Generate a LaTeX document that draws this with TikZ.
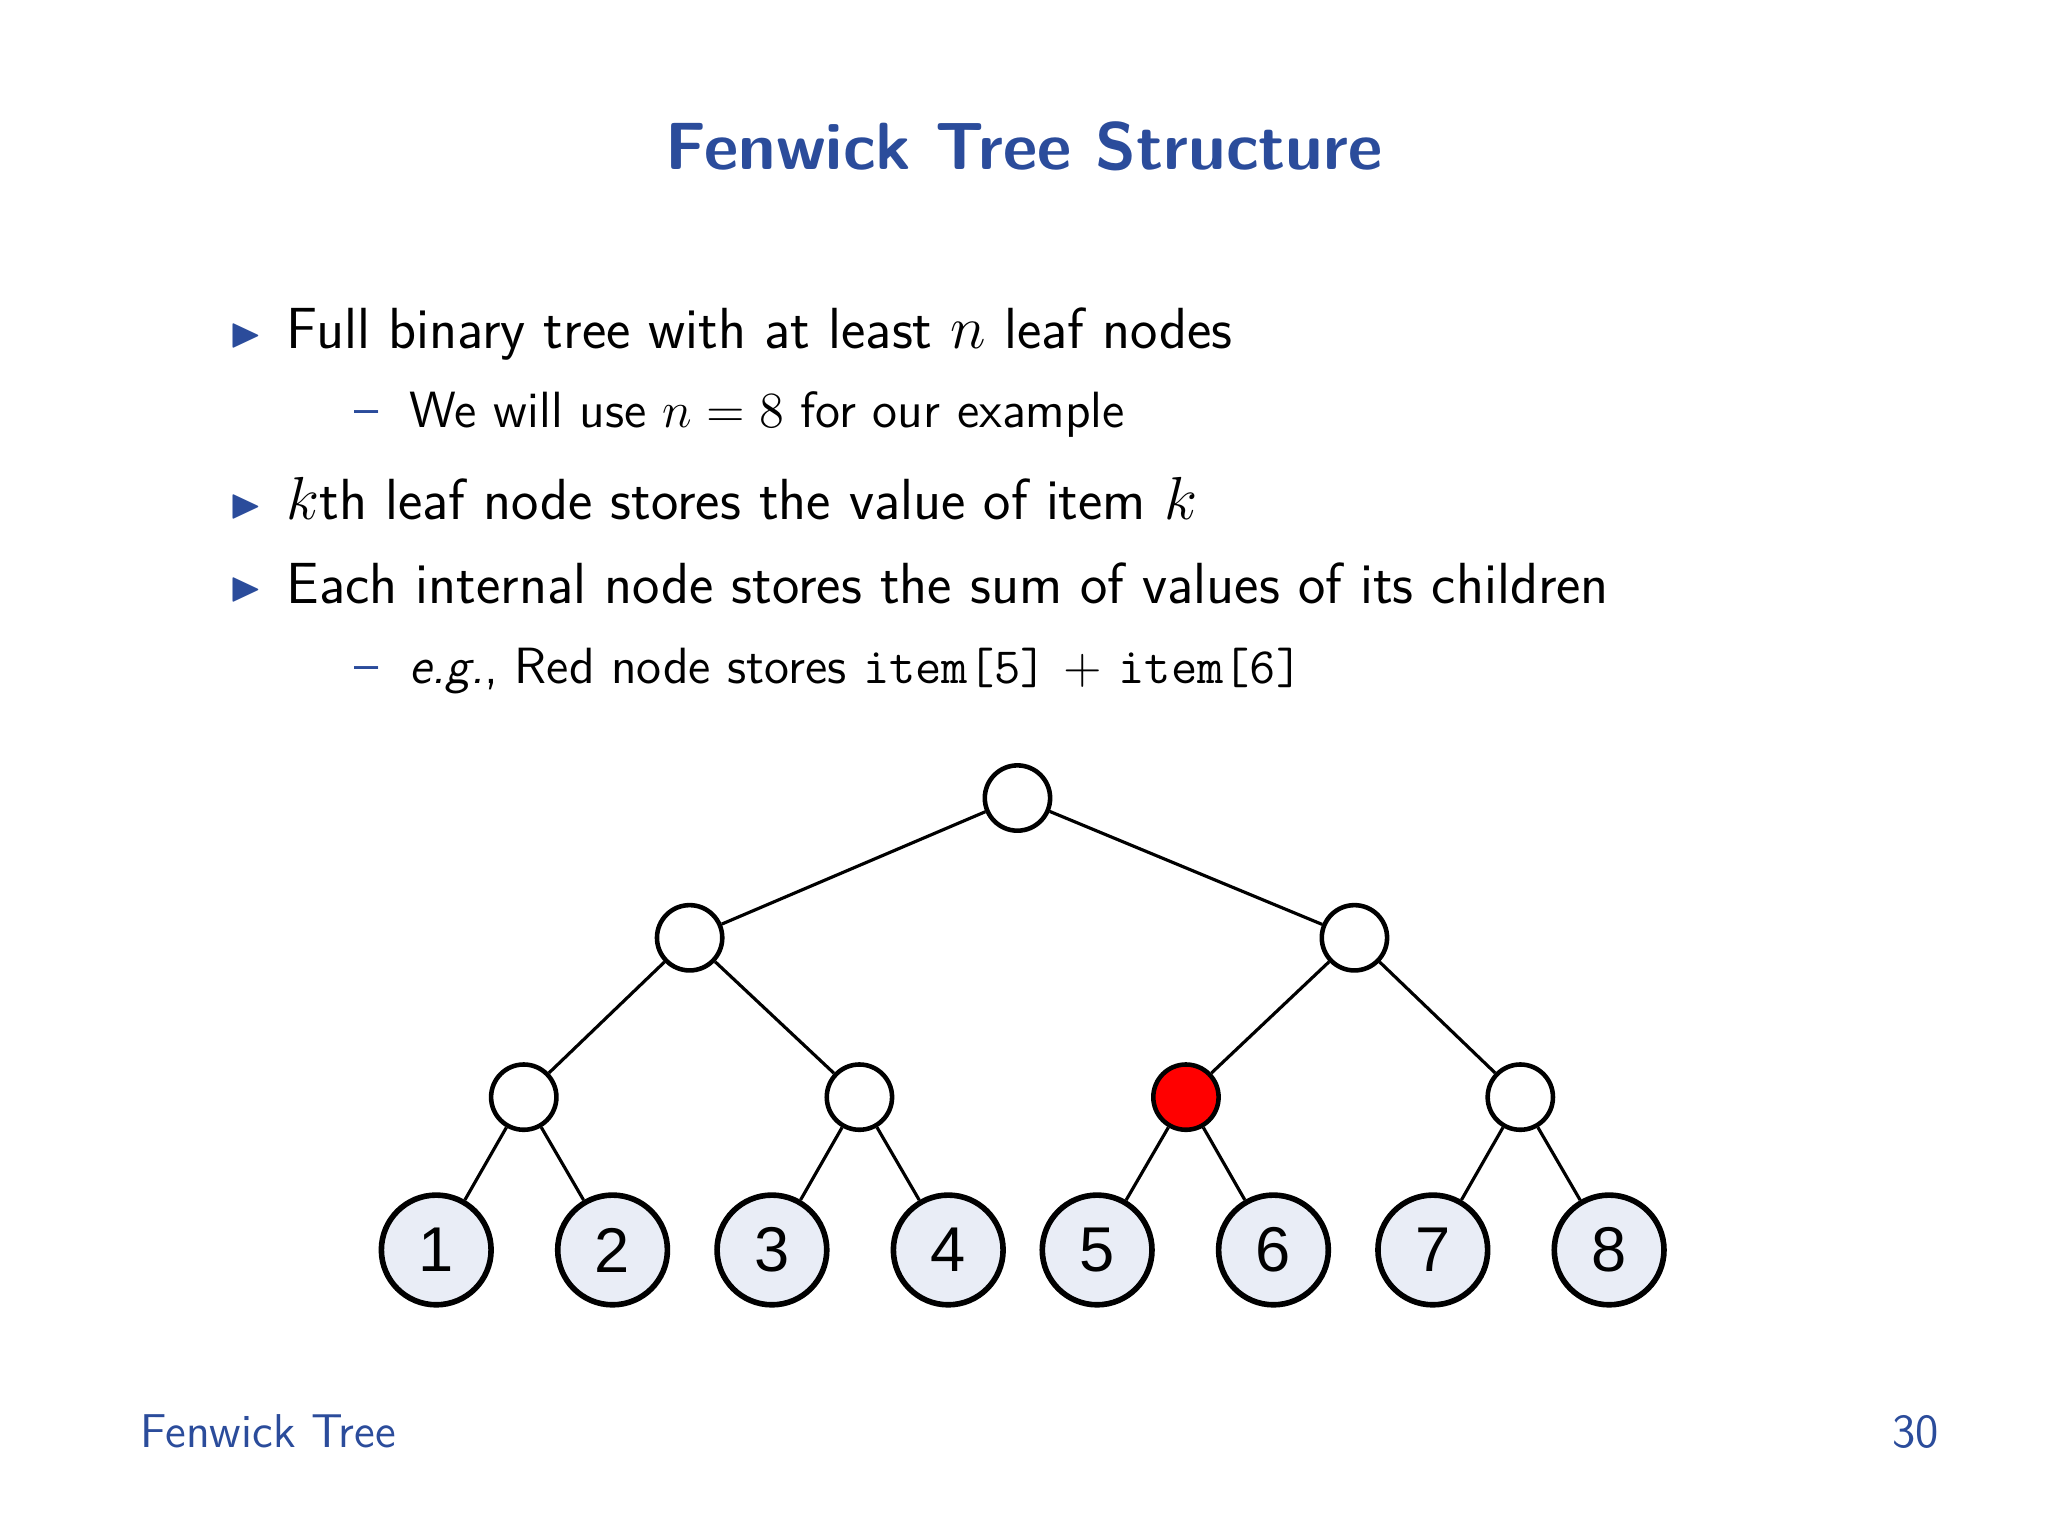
\documentclass[tikz,border=0pt]{standalone}
\usepackage{amsmath,amssymb}
\usepackage{fontspec}
\newfontfamily\arialf{Liberation Sans}
\definecolor{bblue}{HTML}{2B4C9B}
\definecolor{leaf}{HTML}{E9EDF6}
\begin{document}
\begin{tikzpicture}[x=0.013061cm,y=-0.013061cm,font=\sffamily,
  inn/.style={circle,draw,line width=1.3pt,fill=white,minimum size=50*0.013061cm,inner sep=0pt},
  lf/.style={circle,draw,line width=1.6pt,fill=leaf,minimum size=84*0.013061cm,inner sep=0pt,font=\arialf\fontsize{18}{20}\selectfont},
  ed/.style={line width=0.9pt}]
\useasboundingbox (0,0) rectangle (1568,1176);
\node[text=bblue,font=\sffamily\bfseries\fontsize{19}{22}\selectfont] (title) at (784,112) {Fenwick Tree Structure};
\begin{scope}[every node/.style={anchor=base west}]
\node[text=bblue,font=\fontsize{12}{14}\selectfont] (b1) at (166,265) {$\blacktriangleright$};
\node[font=\sffamily\fontsize{16.5}{20}\selectfont] (t1) at (210,267) {Full binary tree with at least $n$ leaf nodes};
\node[text=bblue,font=\sffamily\fontsize{14}{16}\selectfont] (d1) at (262,326) {--};
\node[font=\sffamily\fontsize{14.5}{17}\selectfont] (t2) at (304,327) {We will use $n=8$ for our example};
\node[text=bblue,font=\fontsize{12}{14}\selectfont] (b2) at (166,396) {$\blacktriangleright$};
\node[font=\sffamily\fontsize{16.5}{20}\selectfont] (t3) at (210,398) {$k$th leaf node stores the value of item $k$};
\node[text=bblue,font=\fontsize{12}{14}\selectfont] (b3) at (166,460) {$\blacktriangleright$};
\node[font=\sffamily\fontsize{16.5}{20}\selectfont] (t4) at (210,462) {Each internal node stores the sum of values of its children};
\node[text=bblue,font=\sffamily\fontsize{14}{16}\selectfont] (d2) at (262,522) {--};
\node[font=\sffamily\fontsize{14.5}{17}\selectfont] (t5) at (304,523) {\textit{e.g.}, Red node stores {\fontspec{Latin Modern Mono}item[5]} $+$ {\fontspec{Latin Modern Mono}item[6]}};
\node[text=bblue,font=\sffamily\fontsize{13.5}{16}\selectfont] (f1) at (98,1108) {Fenwick Tree};
\end{scope}
\node[text=bblue,font=\sffamily\fontsize{13.5}{16}\selectfont,anchor=base east] (f2) at (1494,1108) {30};
\node[inn] (r) at (779,611) {};
\node[inn] (a) at (528,718) {};
\node[inn] (b) at (1037,718) {};
\node[inn] (c1) at (401,840) {};
\node[inn] (c2) at (658,840) {};
\node[inn,fill=red] (c3) at (908,840) {};
\node[inn] (c4) at (1164,840) {};
\foreach \i/\x in {1/334,2/469,3/591,4/726,5/840,6/975,7/1097,8/1232}
  \node[lf] (l\i) at (\x,957) {\i};
\draw[ed] (r)--(a) (r)--(b) (a)--(c1) (a)--(c2) (b)--(c3) (b)--(c4)
  (c1)--(l1) (c1)--(l2) (c2)--(l3) (c2)--(l4) (c3)--(l5) (c3)--(l6) (c4)--(l7) (c4)--(l8);
\end{tikzpicture}
\end{document}
